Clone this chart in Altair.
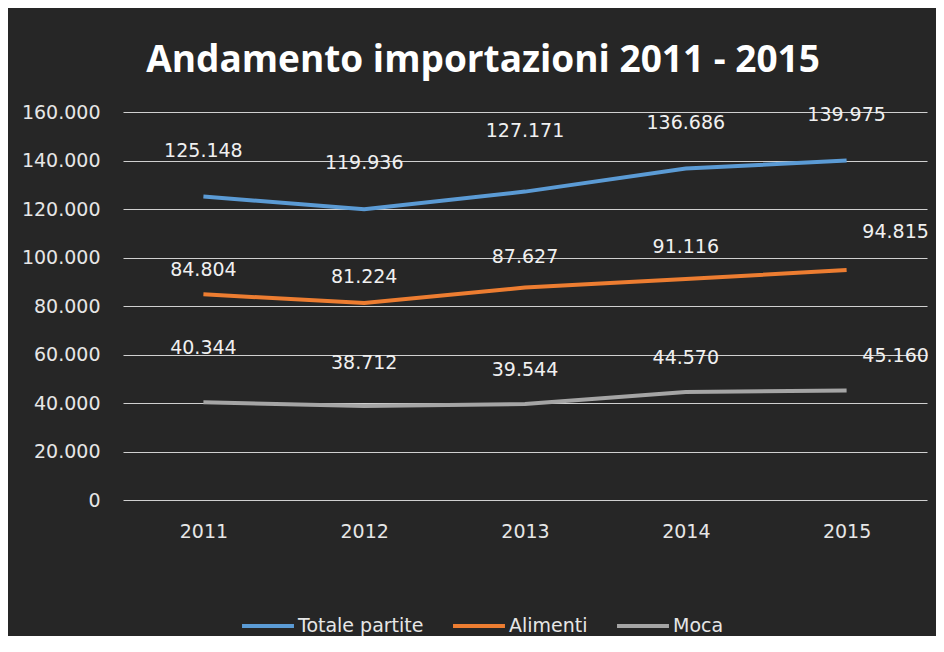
import altair as alt
import pandas as pd

years = ["2011", "2012", "2013", "2014", "2015"]
series_names = ["Totale partite", "Alimenti", "Moca"]
totale = [125148, 119936, 127171, 136686, 139975]
alimenti = [84804, 81224, 87627, 91116, 94815]
moca = [40344, 38712, 39544, 44570, 45160]
colors = ["#5B9BD5", "#ED7D31", "#A5A5A5"]

rows = []
for name, vals in zip(series_names, [totale, alimenti, moca]):
    for y, v in zip(years, vals):
        rows.append({"year": y, "serie": name, "value": v,
                     "label": f"{v:,}".replace(",", ".")})
df = pd.DataFrame(rows)

FONT = "DejaVu Sans"
TFONT = "Open Sans"
BG = "#262626"
TXT = "#E6E6E6"
FS = 19

x = alt.X("year:N", sort=years, title=None,
          scale=alt.Scale(paddingInner=0, paddingOuter=0),
          axis=alt.Axis(labelAngle=0, ticks=False, domain=False, labelPadding=22,
                        labelFont=FONT, labelFontSize=FS, labelColor=TXT, grid=False))
y = alt.Y("value:Q", title=None,
          scale=alt.Scale(domain=[0, 160000], nice=False),
          axis=alt.Axis(values=[0, 20000, 40000, 60000, 80000, 100000, 120000, 140000, 160000],
                        ticks=False, domain=False, labelPadding=23,
                        labelFont=FONT, labelFontSize=FS, labelColor=TXT,
                        gridColor="#D0D0D0", gridWidth=1.2,
                        labelExpr="replace(format(datum.value, ','), ',', '.')"))
color = alt.Color("serie:N", sort=series_names,
                  scale=alt.Scale(domain=series_names, range=colors),
                  legend=alt.Legend(title=None, orient="none", direction="horizontal",
                                    legendX=117, legendY=486,
                                    symbolType="stroke", symbolSize=2700,
                                    symbolStrokeWidth=4, labelFont=FONT,
                                    labelFontSize=FS, labelColor=TXT,
                                    columnPadding=21, labelOffset=2))

base = alt.Chart(df)
lines = base.mark_line(strokeWidth=4).encode(x=x, y=y, color=color)

# label placement offsets (dx, dy) in pixels, per series with per-point overrides
default_dy = {"Totale partite": -46, "Alimenti": -28, "Moca": -34}
overrides = {
    ("Totale partite", "2013"): (0, -61),
    ("Alimenti", "2011"): (0, -24),
    ("Alimenti", "2012"): (0, -26),
    ("Alimenti", "2013"): (0, -31),
    ("Alimenti", "2014"): (0, -32),
    ("Alimenti", "2015"): (49, -38),
    ("Moca", "2011"): (0, -54),
    ("Moca", "2012"): (0, -43),
    ("Moca", "2015"): (49, -34),
}
texts = []
for name in series_names:
    for yr in years:
        dx, dy = overrides.get((name, yr), (0, default_dy[name]))
        texts.append(
            base.transform_filter((alt.datum.serie == name) & (alt.datum.year == yr))
            .mark_text(font=FONT, fontSize=FS, color="#F0F0F0", dx=dx, dy=dy)
            .encode(x=alt.X("year:N", sort=years), y="value:Q", text="label:N")
        )

chart = alt.layer(lines, *texts).properties(
    width=804, height=388, background=BG,
    autosize=alt.AutoSizeParams(type="none"),
    padding={"left": 115, "top": 104, "right": 9, "bottom": 136},
    title=alt.TitleParams("Andamento importazioni 2011 - 2015", font=TFONT,
                          fontSize=37, fontWeight="bold", color="#FFFFFF",
                          anchor="middle", dx=-42, offset=23),
).configure_view(stroke=None)

chart.save("out.html", embed_options={"renderer": "svg", "actions": False})
